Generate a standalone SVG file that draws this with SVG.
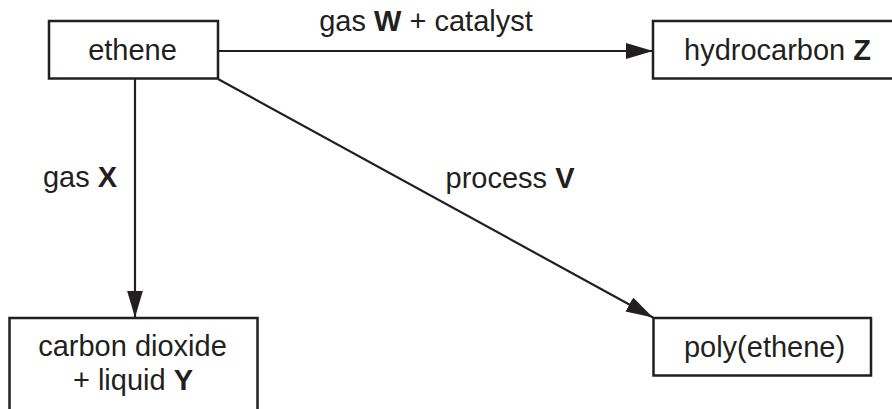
<svg xmlns="http://www.w3.org/2000/svg" width="892" height="409" viewBox="0 0 892 409">
<defs>
<style>
.box{fill:#fff;stroke:#231f20;stroke-width:2.5}
.ln{fill:none;stroke:#231f20;stroke-width:2.2}
text{font-family:"Liberation Sans",Arial,sans-serif;font-size:29px;fill:#231f20;text-anchor:middle}
.b{font-weight:bold}
</style>
<marker id="arr" markerUnits="userSpaceOnUse" markerWidth="28" markerHeight="16" viewBox="0 0 28 16" refX="27" refY="8" orient="auto">
<path d="M0,0 L27,8 L0,16 Z" fill="#231f20"/>
</marker>
</defs>
<g id="connectors">
<line class="ln" x1="218" y1="51" x2="653" y2="51" marker-end="url(#arr)"/>
<line class="ln" x1="135" y1="79" x2="135" y2="317.5" marker-end="url(#arr)"/>
<line class="ln" x1="218" y1="79" x2="653" y2="317.5" marker-end="url(#arr)"/>
<text x="426" y="31">gas <tspan class="b">W</tspan> + catalyst</text>
<text x="80" y="187">gas <tspan class="b">X</tspan></text>
<text x="510" y="188">process <tspan class="b">V</tspan></text>
</g>
<g id="ethene">
<rect class="box" x="49" y="21" width="169" height="57.5"/>
<text x="132.5" y="60">ethene</text>
</g>
<g id="hydrocarbonZ">
<rect class="box" x="653" y="21" width="260" height="57.5"/>
<text x="777.5" y="60">hydrocarbon <tspan class="b">Z</tspan></text>
</g>
<g id="co2">
<rect class="box" x="9.5" y="318" width="248" height="120"/>
<text x="132.5" y="356">carbon dioxide</text>
<text x="133" y="390">+ liquid <tspan class="b">Y</tspan></text>
</g>
<g id="poly">
<rect class="box" x="653.5" y="318" width="217.5" height="57.5"/>
<text x="764.5" y="357">poly(ethene)</text>
</g>
</svg>
